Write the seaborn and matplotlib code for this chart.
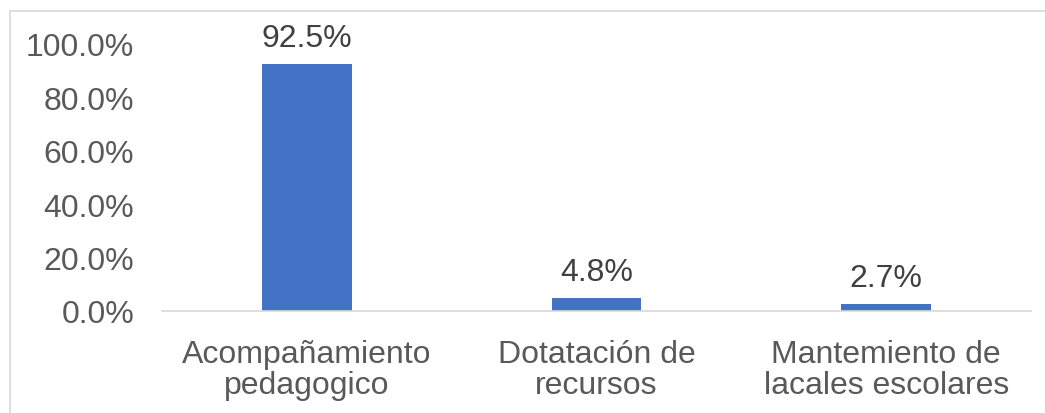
import matplotlib
matplotlib.use("Agg")
import matplotlib.pyplot as plt
import seaborn as sns
import pandas as pd
from matplotlib.patches import Rectangle
from matplotlib.ticker import PercentFormatter

categories = ["Acompañamiento\npedagogico", "Dotatación de\nrecursos", "Mantemiento de\nlacales escolares"]
values = [92.5, 4.8, 2.7]
yticks = [0, 20, 40, 60, 80, 100]

df = pd.DataFrame({"cat": categories, "val": values})

sns.set_theme(style="white")
plt.rcParams["font.family"] = ["Liberation Sans", "DejaVu Sans"]

W, H = 1045, 414
fig = plt.figure(figsize=(W / 100, H / 100), dpi=100)
ax = fig.add_axes([162 / W, 1 - 312 / H, (1031 - 162) / W, (312 - 45) / H])

sns.barplot(data=df, x="cat", y="val", color="#4472C4", width=0.31, ax=ax,
            saturation=1, linewidth=0)

ax.set_ylim(0, 100)
ax.set_xlim(-0.5, 2.5)
ax.set_yticks(yticks)
ax.yaxis.set_major_formatter(PercentFormatter(decimals=1))
ax.set_xlabel("")
ax.set_ylabel("")
for s in ["top", "right", "left"]:
    ax.spines[s].set_visible(False)
ax.spines["bottom"].set_color("#D9D9D9")
ax.spines["bottom"].set_linewidth(1.2)
ax.tick_params(axis="both", length=0, labelsize=23, colors="#595959")
ax.tick_params(axis="y", pad=20)
ax.tick_params(axis="x", pad=20)
for lbl in ax.get_xticklabels():
    lbl.set_linespacing(1.05)

for i, v in enumerate(values):
    ax.annotate(f"{v:.1f}%", (i, v), xytext=(0, 8), textcoords="offset points",
                ha="center", va="bottom", fontsize=23, color="#404040", annotation_clip=False)

fig.patches.append(Rectangle((10 / W, -0.05), 1.1, 1 - 12 / H + 0.05, transform=fig.transFigure,
                             fill=False, edgecolor="#D9D9D9", linewidth=1.2))

fig.savefig("out.png", dpi=100)
